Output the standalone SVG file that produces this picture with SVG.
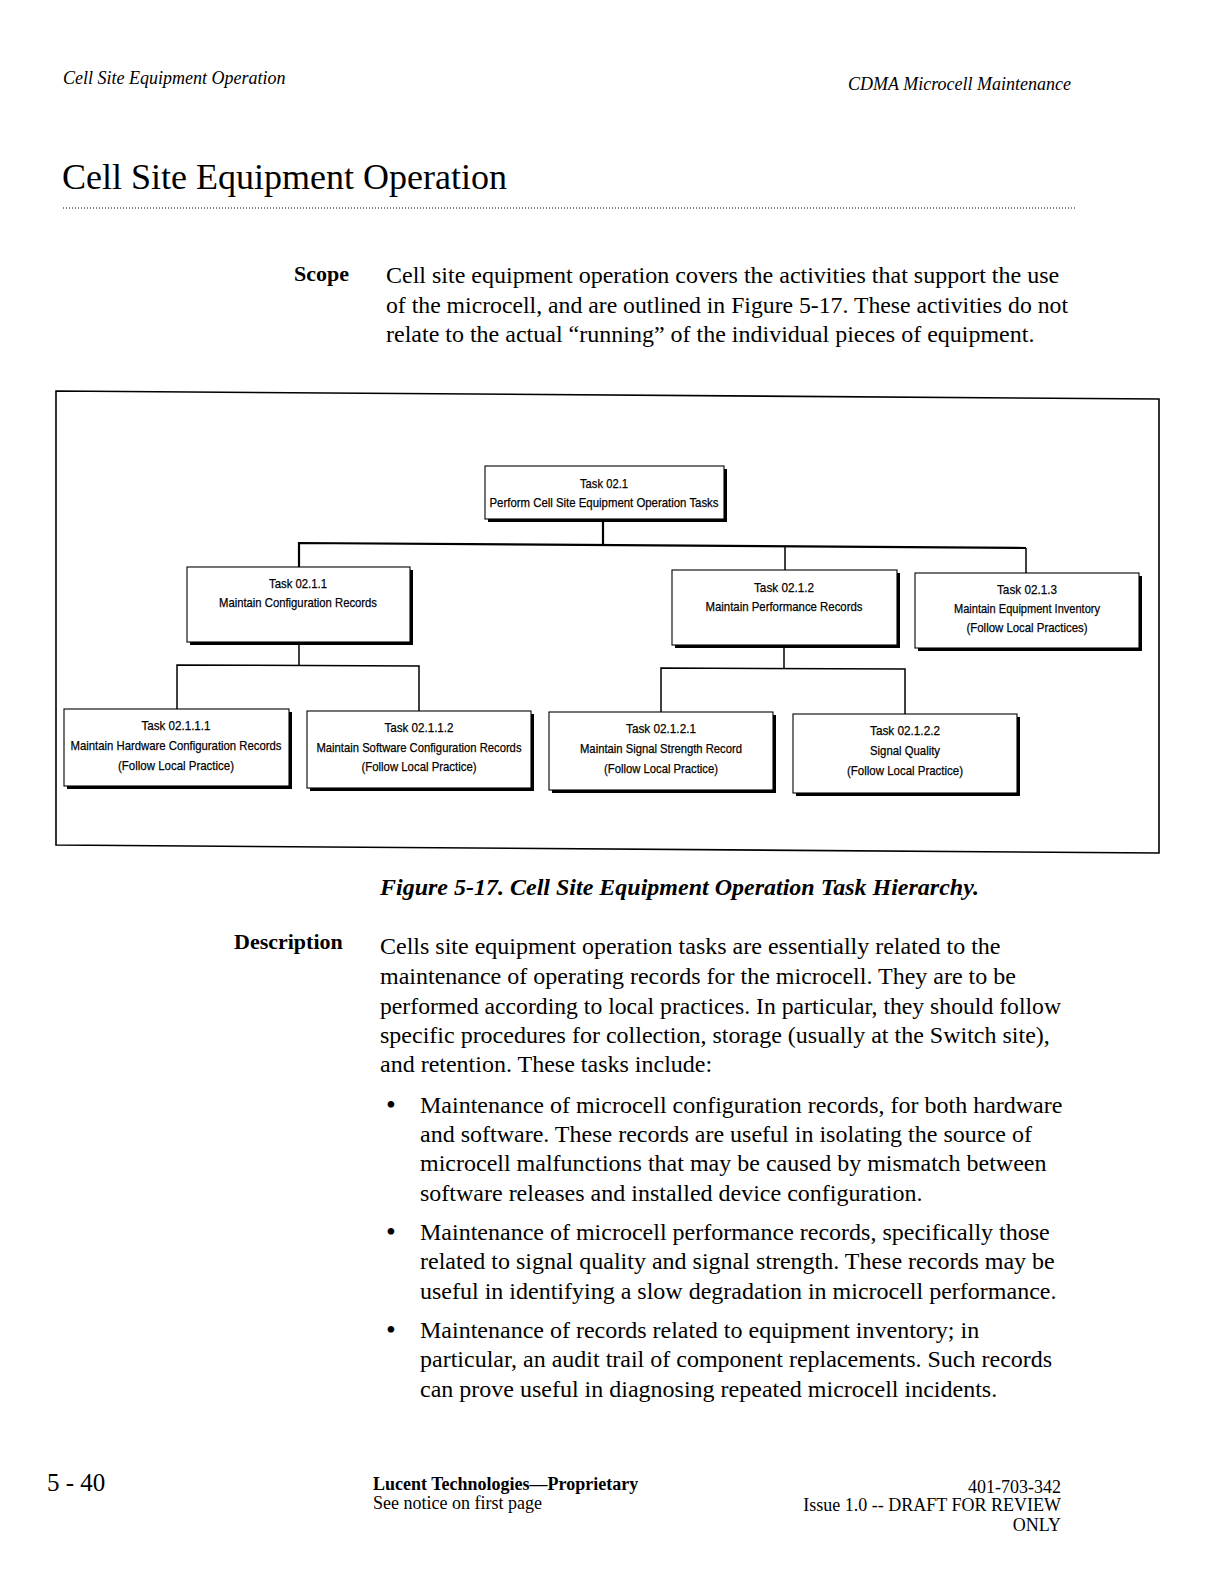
<svg xmlns="http://www.w3.org/2000/svg" width="1224" height="1584" viewBox="0 0 1224 1584">
<style>
.serif{font-family:"Liberation Serif","Times New Roman",serif;fill:#000}
.hdr{font-size:18px;font-style:italic}
.title{font-size:36px}
.body{font-size:24px}
.lbl{font-size:22px;font-weight:bold}
.cap{font-size:24px;font-weight:bold;font-style:italic}
.foot{font-size:18px}
.bul{font-size:28px}
.bt{font-family:"Liberation Sans Narrow","Liberation Sans","Arial Narrow",sans-serif;font-size:13.5px;fill:#000;stroke:#000;stroke-width:0.25;text-anchor:middle}
.box{fill:#fff;stroke:#000;stroke-width:1.1}
.shadow{fill:#000}
.conn{fill:none;stroke:#000;stroke-width:1.5}
.trunk{fill:none;stroke:#000;stroke-width:2.2}
</style>
<rect width="1224" height="1584" fill="#fff"/>

<!-- page header -->
<text class="serif hdr" x="63" y="84">Cell Site Equipment Operation</text>
<text class="serif hdr" x="1071" y="90" text-anchor="end">CDMA Microcell Maintenance</text>
<text class="serif title" x="62" y="189">Cell Site Equipment Operation</text>
<line x1="63" y1="208" x2="1075" y2="208" stroke="#000" stroke-width="1" stroke-dasharray="1 2"/>

<!-- scope -->
<text class="serif lbl" x="294" y="281">Scope</text>
<text class="serif body" x="386" y="283">Cell site equipment operation covers the activities that support the use</text>
<text class="serif body" x="386" y="313" textLength="682" lengthAdjust="spacingAndGlyphs">of the microcell, and are outlined in Figure 5-17. These activities do not</text>
<text class="serif body" x="386" y="342">relate to the actual “running” of the individual pieces of equipment.</text>

<!-- figure frame -->
<polygon points="56,391 1159,399 1159,853 56,845" fill="none" stroke="#000" stroke-width="1.6"/>

<!-- connectors -->
<g id="connectors">
  <line class="trunk" x1="603" y1="519" x2="603" y2="546"/>
  <polyline class="trunk" points="299,567 299,543 1026,548"/>
  <line class="conn" x1="785" y1="546" x2="785" y2="570"/>
  <line class="conn" x1="1026" y1="548" x2="1026" y2="573"/>
  <line class="conn" x1="299" y1="642" x2="299" y2="666"/>
  <polyline class="conn" points="177,709 177,665 419,666 419,711"/>
  <line class="conn" x1="784" y1="645" x2="784" y2="669"/>
  <polyline class="conn" points="661,712 661,668 905,669 905,714"/>
</g>

<!-- nodes -->
<g id="task-02-1">
  <rect class="shadow" x="488" y="469" width="239" height="53"/>
  <rect class="box" x="485" y="466" width="239" height="53"/>
  <text class="bt" x="604" y="488" textLength="48" lengthAdjust="spacingAndGlyphs">Task 02.1</text>
  <text class="bt" x="604" y="507" textLength="229" lengthAdjust="spacingAndGlyphs">Perform Cell Site Equipment Operation Tasks</text>
</g>
<g id="task-02-1-1">
  <rect class="shadow" x="190" y="570" width="223" height="75"/>
  <rect class="box" x="187" y="567" width="223" height="75"/>
  <text class="bt" x="298" y="588" textLength="58" lengthAdjust="spacingAndGlyphs">Task 02.1.1</text>
  <text class="bt" x="298" y="607" textLength="158" lengthAdjust="spacingAndGlyphs">Maintain Configuration Records</text>
</g>
<g id="task-02-1-2">
  <rect class="shadow" x="675" y="573" width="225" height="75"/>
  <rect class="box" x="672" y="570" width="225" height="75"/>
  <text class="bt" x="784" y="592" textLength="60" lengthAdjust="spacingAndGlyphs">Task 02.1.2</text>
  <text class="bt" x="784" y="611" textLength="157" lengthAdjust="spacingAndGlyphs">Maintain Performance Records</text>
</g>
<g id="task-02-1-3">
  <rect class="shadow" x="918" y="576" width="224" height="75"/>
  <rect class="box" x="915" y="573" width="224" height="75"/>
  <text class="bt" x="1027" y="594" textLength="60" lengthAdjust="spacingAndGlyphs">Task 02.1.3</text>
  <text class="bt" x="1027" y="613" textLength="146" lengthAdjust="spacingAndGlyphs">Maintain Equipment Inventory</text>
  <text class="bt" x="1027" y="632" textLength="121" lengthAdjust="spacingAndGlyphs">(Follow Local Practices)</text>
</g>
<g id="task-02-1-1-1">
  <rect class="shadow" x="67" y="712" width="225" height="77"/>
  <rect class="box" x="64" y="709" width="225" height="77"/>
  <text class="bt" x="176" y="730" textLength="69" lengthAdjust="spacingAndGlyphs">Task 02.1.1.1</text>
  <text class="bt" x="176" y="750" textLength="211" lengthAdjust="spacingAndGlyphs">Maintain Hardware Configuration Records</text>
  <text class="bt" x="176" y="770" textLength="116" lengthAdjust="spacingAndGlyphs">(Follow Local Practice)</text>
</g>
<g id="task-02-1-1-2">
  <rect class="shadow" x="310" y="714" width="224" height="77"/>
  <rect class="box" x="307" y="711" width="224" height="77"/>
  <text class="bt" x="419" y="732" textLength="69" lengthAdjust="spacingAndGlyphs">Task 02.1.1.2</text>
  <text class="bt" x="419" y="752" textLength="205" lengthAdjust="spacingAndGlyphs">Maintain Software Configuration Records</text>
  <text class="bt" x="419" y="771" textLength="115" lengthAdjust="spacingAndGlyphs">(Follow Local Practice)</text>
</g>
<g id="task-02-1-2-1">
  <rect class="shadow" x="552" y="715" width="224" height="78"/>
  <rect class="box" x="549" y="712" width="224" height="78"/>
  <text class="bt" x="661" y="733" textLength="70" lengthAdjust="spacingAndGlyphs">Task 02.1.2.1</text>
  <text class="bt" x="661" y="753" textLength="162" lengthAdjust="spacingAndGlyphs">Maintain Signal Strength Record</text>
  <text class="bt" x="661" y="773" textLength="114" lengthAdjust="spacingAndGlyphs">(Follow Local Practice)</text>
</g>
<g id="task-02-1-2-2">
  <rect class="shadow" x="796" y="717" width="224" height="79"/>
  <rect class="box" x="793" y="714" width="224" height="79"/>
  <text class="bt" x="905" y="735" textLength="70" lengthAdjust="spacingAndGlyphs">Task 02.1.2.2</text>
  <text class="bt" x="905" y="755" textLength="70" lengthAdjust="spacingAndGlyphs">Signal Quality</text>
  <text class="bt" x="905" y="775" textLength="116" lengthAdjust="spacingAndGlyphs">(Follow Local Practice)</text>
</g>

<!-- caption -->
<text class="serif cap" x="380" y="895">Figure 5-17. Cell Site Equipment Operation Task Hierarchy.</text>

<!-- description -->
<text class="serif lbl" x="234" y="949">Description</text>
<text class="serif body" x="380" y="954">Cells site equipment operation tasks are essentially related to the</text>
<text class="serif body" x="380" y="984">maintenance of operating records for the microcell. They are to be</text>
<text class="serif body" x="380" y="1014" textLength="681" lengthAdjust="spacingAndGlyphs">performed according to local practices. In particular, they should follow</text>
<text class="serif body" x="380" y="1043">specific procedures for collection, storage (usually at the Switch site),</text>
<text class="serif body" x="380" y="1072">and retention. These tasks include:</text>

<text class="serif bul" x="386" y="1114">•</text>
<text class="serif body" x="420" y="1113">Maintenance of microcell configuration records, for both hardware</text>
<text class="serif body" x="420" y="1142">and software. These records are useful in isolating the source of</text>
<text class="serif body" x="420" y="1171">microcell malfunctions that may be caused by mismatch between</text>
<text class="serif body" x="420" y="1201">software releases and installed device configuration.</text>

<text class="serif bul" x="386" y="1241">•</text>
<text class="serif body" x="420" y="1240">Maintenance of microcell performance records, specifically those</text>
<text class="serif body" x="420" y="1269">related to signal quality and signal strength. These records may be</text>
<text class="serif body" x="420" y="1299">useful in identifying a slow degradation in microcell performance.</text>

<text class="serif bul" x="386" y="1339">•</text>
<text class="serif body" x="420" y="1338">Maintenance of records related to equipment inventory; in</text>
<text class="serif body" x="420" y="1367">particular, an audit trail of component replacements. Such records</text>
<text class="serif body" x="420" y="1397">can prove useful in diagnosing repeated microcell incidents.</text>

<!-- footer -->
<text class="serif" x="47" y="1491" font-size="25">5 - 40</text>
<text class="serif foot" x="373" y="1490" font-weight="bold">Lucent Technologies—Proprietary</text>
<text class="serif foot" x="373" y="1509">See notice on first page</text>
<text class="serif foot" x="1061" y="1493" text-anchor="end">401-703-342</text>
<text class="serif foot" x="1061" y="1511" text-anchor="end">Issue 1.0 -- DRAFT FOR REVIEW</text>
<text class="serif foot" x="1061" y="1531" text-anchor="end">ONLY</text>
</svg>
